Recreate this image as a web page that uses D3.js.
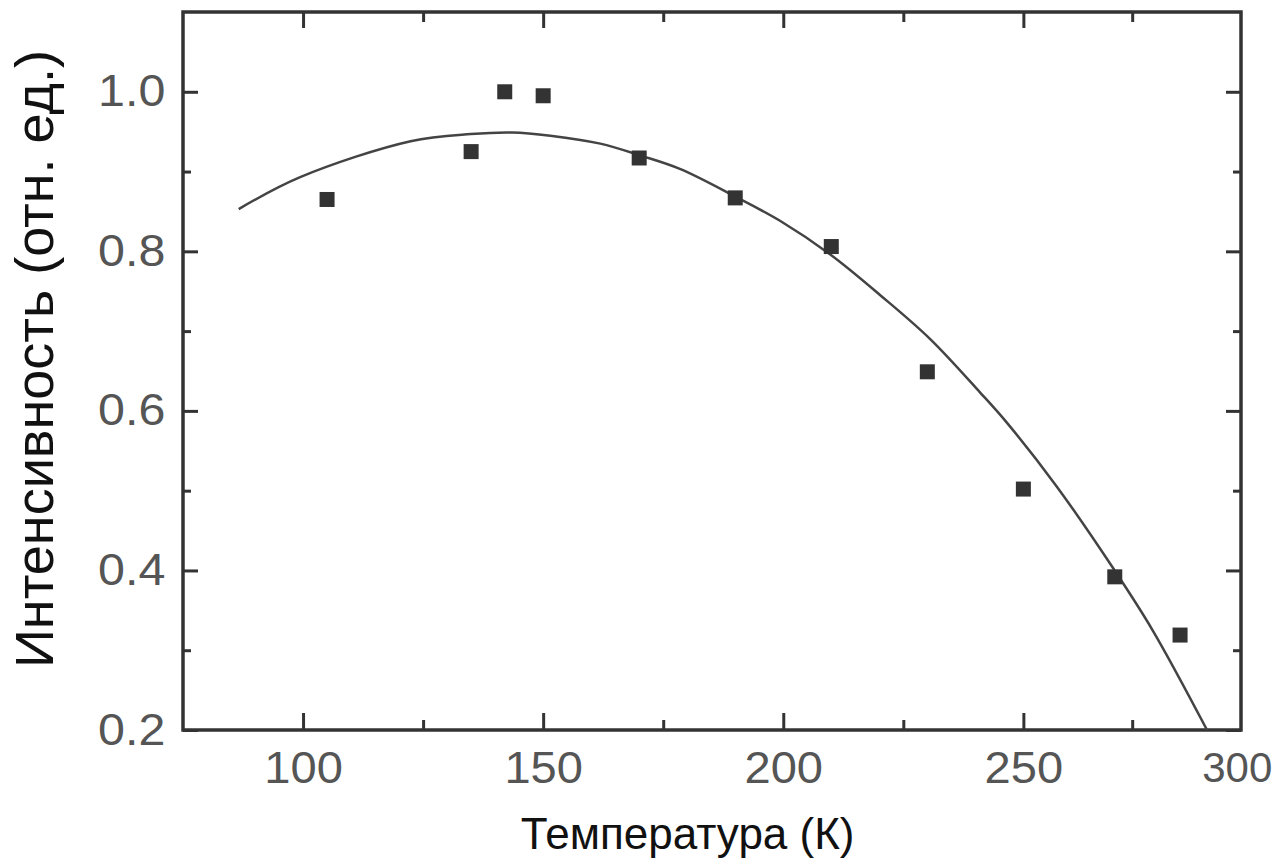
<!DOCTYPE html>
<html>
<head>
<meta charset="utf-8">
<script src="https://cdn.jsdelivr.net/npm/d3@7"></script>
<style>
  body { margin: 0; background: #fff; }
  svg { display: block; }
  .tick text { font-family: "Liberation Sans", Arial, sans-serif; fill: #555; }
</style>
</head>
<body>
<svg id="chart" width="1282" height="859"></svg>
<script>
// measured points (temperature K, intensity a.u.)
const temps = [105, 135, 142, 150, 170, 190, 210, 230, 250, 271, 286];
const intensity = [0.865, 0.925, 1.0, 0.995, 0.917, 0.867, 0.806, 0.649, 0.502, 0.392, 0.319];

// fitted curve
const fitT = [86.6, 99.4, 122.4, 134.9, 143.5, 151.5, 161.9, 170.3, 178.6, 190.2, 199.4, 209.8,
  220.2, 230.6, 241.0, 246.6, 257.7, 270.6, 279.7, 292.2];
const fitI = [0.853, 0.893, 0.938, 0.947, 0.949, 0.945, 0.935, 0.920, 0.903, 0.868, 0.838, 0.796,
  0.745, 0.690, 0.623, 0.585, 0.505, 0.403, 0.325, 0.2];

const xTicks = [100, 150, 200, 250, 300];
const xMinor = [125, 175, 225, 275];
const yTicks = [0.2, 0.4, 0.6, 0.8, 1.0];
const yMinor = [0.3, 0.5, 0.7, 0.9];

const xTitle = "Температура (К)";
const yTitle = "Интенсивность (отн. ед.)";

const svg = d3.select("#chart");
const margin = {left: 183, right: 41, top: 12, bottom: 129};
const width = 1282 - margin.left - margin.right;
const height = 859 - margin.top - margin.bottom;

// the scan is a little squeezed past 250 K, so the scale is polylinear
const x = d3.scaleLinear()
  .domain([75, 250, 300])
  .range([0, width * 0.7943, width]);
const y = d3.scaleLinear().domain([0.2, 1.1]).range([height, 0]);

const g = svg.append("g").attr("transform", `translate(${margin.left},${margin.top})`);
const ink = "#333";

function styleAxis(sel) {
  sel.select(".domain").remove();
  sel.selectAll(".tick line").attr("stroke", ink).attr("stroke-width", 3);
}

// bottom axis with labels
g.append("g")
  .attr("transform", `translate(0,${height})`)
  .call(d3.axisBottom(x).tickValues(xTicks.filter(d => d < 300)).tickSize(-17).tickPadding(22)
    .tickFormat(d3.format("d")))
  .call(styleAxis)
  .selectAll("text")
  .attr("font-size", 44)
  .attr("transform", "scale(1.07,1)");

// "300" sits on the right frame
g.append("g")
  .attr("transform", `translate(0,${height})`)
  .call(d3.axisBottom(x).tickValues(xTicks.filter(d => d >= 300)).tickSize(0).tickPadding(22)
    .tickFormat(d3.format("d")))
  .call(styleAxis)
  .selectAll("text")
  .attr("font-size", 42)
  .attr("dx", "-0.1em");

g.append("g")
  .attr("transform", `translate(0,${height})`)
  .call(d3.axisBottom(x).tickValues(xMinor).tickSize(-10).tickFormat(""))
  .call(styleAxis);

// top axis
g.append("g")
  .call(d3.axisTop(x).tickValues(xTicks.filter(d => d < 300)).tickSize(-16).tickFormat(""))
  .call(styleAxis);
g.append("g")
  .call(d3.axisTop(x).tickValues(xMinor).tickSize(-10).tickFormat(""))
  .call(styleAxis);

// left axis with labels
g.append("g")
  .call(d3.axisLeft(y).tickValues(yTicks).tickSize(-15).tickPadding(16).tickFormat(d3.format(".1f")))
  .call(styleAxis)
  .selectAll("text")
  .attr("font-size", 44)
  .attr("transform", "scale(1.1,1)");
g.append("g")
  .call(d3.axisLeft(y).tickValues(yMinor).tickSize(-8).tickFormat(""))
  .call(styleAxis);

// right axis
g.append("g")
  .attr("transform", `translate(${width},0)`)
  .call(d3.axisRight(y).tickValues(yTicks).tickSize(-15).tickFormat(""))
  .call(styleAxis);
g.append("g")
  .attr("transform", `translate(${width},0)`)
  .call(d3.axisRight(y).tickValues(yMinor).tickSize(-8).tickFormat(""))
  .call(styleAxis);

// frame
g.append("rect")
  .attr("width", width)
  .attr("height", height)
  .attr("fill", "none")
  .attr("stroke", ink)
  .attr("stroke-width", 3.5);

// fit curve
const fit = fitT.map((t, i) => [t, fitI[i]]);
g.append("path")
  .datum(fit)
  .attr("fill", "none")
  .attr("stroke", "#444")
  .attr("stroke-width", 2.5)
  .attr("d", d3.line().x(d => x(d[0])).y(d => y(d[1])).curve(d3.curveCatmullRom.alpha(0.5)));

// squares
const s = 15;
g.selectAll("rect.pt")
  .data(temps.map((t, i) => [t, intensity[i]]))
  .join("rect")
  .attr("class", "pt")
  .attr("x", d => x(d[0]) - s / 2)
  .attr("y", d => y(d[1]) - s / 2)
  .attr("width", s)
  .attr("height", s)
  .attr("fill", ink);

// axis titles
svg.append("text")
  .attr("x", margin.left + width * 0.477)
  .attr("y", 849)
  .attr("text-anchor", "middle")
  .attr("font-family", "Liberation Sans, Arial, sans-serif")
  .attr("font-size", 44)
  .attr("fill", "#111")
  .text(xTitle);

svg.append("text")
  .attr("transform", "translate(53,359) rotate(-90)")
  .attr("text-anchor", "middle")
  .attr("font-family", "Liberation Sans, Arial, sans-serif")
  .attr("font-size", 54)
  .attr("fill", "#111")
  .text(yTitle);
</script>
</body>
</html>
